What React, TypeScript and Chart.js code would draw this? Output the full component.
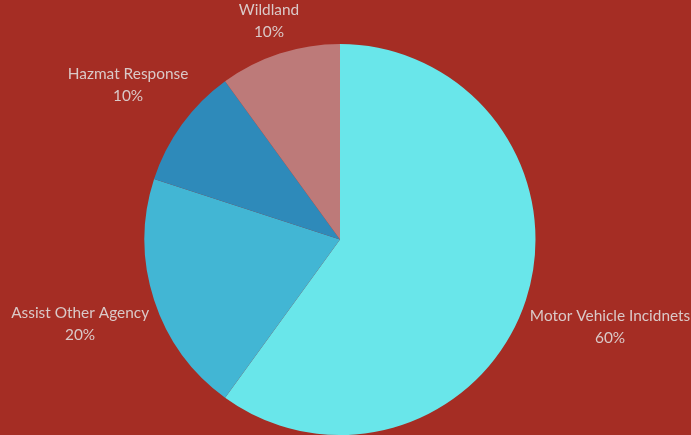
import React, { useEffect, useRef } from "react";
import { Chart, registerables } from "chart.js";

Chart.register(...registerables);

const categories = ["Motor Vehicle Incidnets", "Assist Other Agency", "Hazmat Response", "Wildland"];
const values = [60, 20, 10, 10];
const colors = ["#69e6ea", "#42b6d4", "#2e8aba", "#bd7a79"];
const BG = "#a52d24";

const outLabels = {
  id: "outLabels",
  afterDatasetsDraw(chart: any) {
    const ctx = chart.ctx;
    const meta = chart.getDatasetMeta(0);
    const data = chart.data.datasets[0].data as number[];
    const total = data.reduce((a, b) => a + b, 0);
    ctx.save();
    ctx.font = "15.4px Lato";
    ctx.fillStyle = "#dac9c8";
    ctx.textAlign = "center";
    ctx.textBaseline = "middle";
    const lineH = 22;
    meta.data.forEach((arc: any, i: number) => {
      const mid = (arc.startAngle + arc.endAngle) / 2;
      const l1 = String(chart.data.labels[i]);
      const l2 = Math.round((data[i] / total) * 100) + "%";
      const w = Math.max(ctx.measureText(l1).width, ctx.measureText(l2).width);
      const h = lineH * 2 - 4;
      const c = Math.cos(mid);
      const s = Math.sin(mid);
      const d = arc.outerRadius + 6 + Math.abs(c) * w / 2 + Math.abs(s) * h / 2;
      const x = arc.x + c * d;
      const y = arc.y + s * d;
      ctx.fillText(l1, x, y - lineH / 2);
      ctx.fillText(l2, x, y + lineH / 2);
    });
    ctx.restore();
  },
};

export default function App() {
  const ref = useRef<HTMLCanvasElement>(null);
  useEffect(() => {
    document.body.style.margin = "0";
    document.body.style.background = BG;
    const chart = new Chart(ref.current!, {
      type: "pie",
      data: {
        labels: categories,
        datasets: [
          {
            data: values,
            backgroundColor: colors,
            borderWidth: 0,
          },
        ],
      },
      options: {
        responsive: false,
        animation: false,
        layout: { padding: { top: 44, bottom: -1, left: 0, right: 11 } },
        plugins: {
          legend: { display: false },
          tooltip: { enabled: false },
        },
      },
      plugins: [outLabels],
    });
    return () => chart.destroy();
  }, []);
  return (
    <div style={{ width: 691, height: 435, background: BG, overflow: "hidden" }}>
      <canvas ref={ref} width={691} height={435} style={{ display: "block" }} />
    </div>
  );
}
